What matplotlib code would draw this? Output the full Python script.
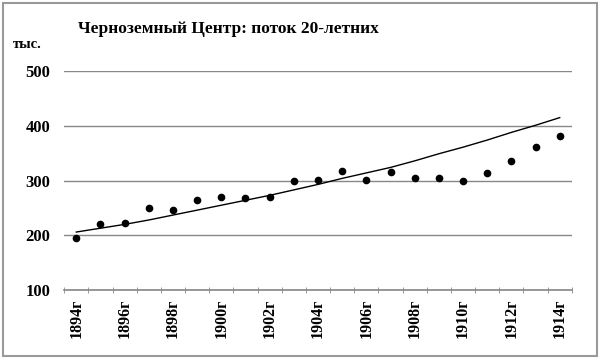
import matplotlib.pyplot as plt
from matplotlib.patches import Rectangle

years = list(range(1894, 1915))
labels = [f"{y}г" for y in years]
flow = [195, 220, 223, 249, 247, 265, 270, 268, 270, 300, 301,
        318, 301, 315, 304, 304, 300, 313, 336, 361, 381]
trend = [206, 213, 220, 228, 237, 246, 255, 264, 273, 283, 293,
         304, 314, 324, 336, 349, 361, 374, 388, 401, 415]

plt.rcParams['font.family'] = ['Liberation Serif', 'DejaVu Serif']

fig = plt.figure(figsize=(6, 3.59), dpi=100)
ax = fig.add_axes([0.107, 0.192, 0.846, 0.61])

x = list(range(len(years)))
ax.plot(x, trend, color='black', lw=1.0)
ax.plot(x, flow, 'o', color='black', ms=4.5)

ax.set_ylim(100, 500)
ax.set_xlim(-0.5, len(years) - 0.5)
ax.set_yticks([100, 200, 300, 400, 500])
ax.yaxis.grid(True, color='#888888', lw=1)
ax.set_axisbelow(True)
for s in ['left', 'right', 'top']:
    ax.spines[s].set_visible(False)
ax.spines['bottom'].set_color('#888888')
ax.spines['bottom'].set_linewidth(1.2)
ax.tick_params(axis='y', length=0, pad=10, labelsize=12)
for t in ax.get_yticklabels():
    t.set_fontweight('bold')

# category ticks sit between categories, labels on every second year
ax.set_xticks([i - 0.5 for i in range(len(years) + 1)], minor=True)
ax.tick_params(axis='x', which='minor', length=4, direction='inout', color='#888888')
ax.set_xticks(x[::2])
ax.set_xticklabels(labels[::2], rotation=90, fontsize=11.5, fontweight='bold')
ax.tick_params(axis='x', which='major', length=0, pad=6)

fig.text(0.38, 0.92, "Черноземный Центр: поток 20-летних", ha='center', va='center',
         fontsize=12.5, fontweight='bold')
fig.text(0.022, 0.875, "тыс.", ha='left', va='center', fontsize=10.5, fontweight='bold')

fig.patches.append(Rectangle((0.005, 0.008), 0.99, 0.984, transform=fig.transFigure,
                             fill=False, edgecolor='#999999', lw=1.5))

fig.savefig('out.png', dpi=100)
